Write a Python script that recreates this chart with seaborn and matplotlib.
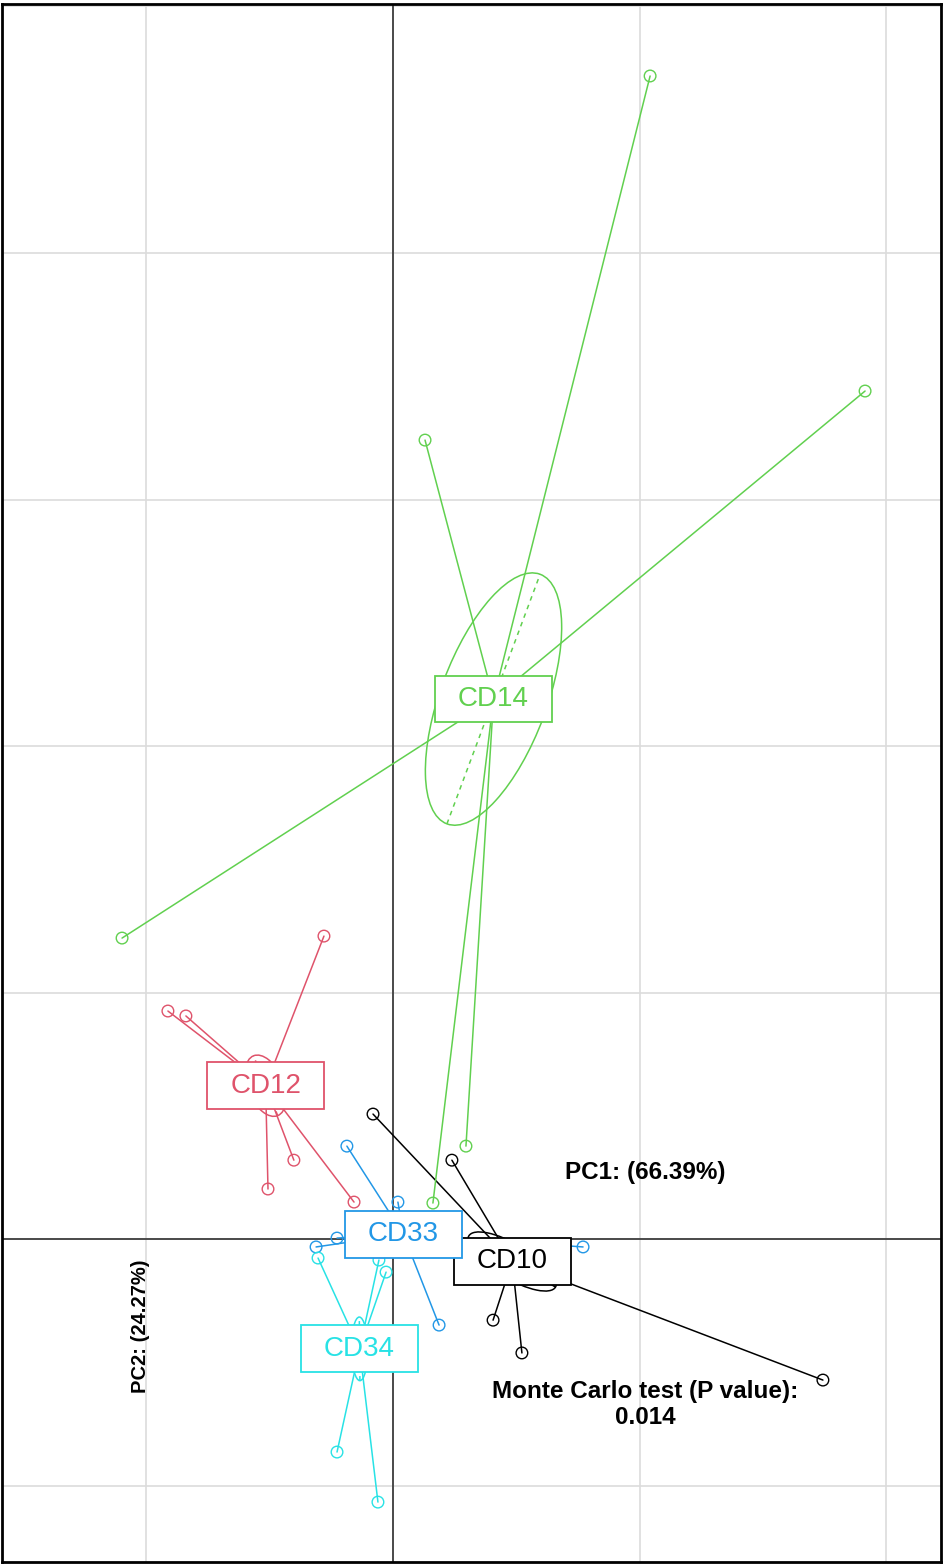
import numpy as np
import pandas as pd
import matplotlib
matplotlib.use('Agg')
import matplotlib.pyplot as plt
from matplotlib.patches import Ellipse, Rectangle
import seaborn as sns

# groups and colours (R default palette order)
groups = ['CD10', 'CD12', 'CD14', 'CD33', 'CD34']
colors = ['#000000', '#DF536B', '#61D04F', '#2297E6', '#28E2E5']

# sample scores on PC1 / PC2
cd10_x = [-0.081, 0.239, 0.406, 0.523, 1.744, 0.070]
cd10_y = [0.507, 0.320, -0.329, -0.462, -0.572, -0.010]
cd12_x = [-0.280, -0.913, -0.840, -0.402, -0.507, -0.158]
cd12_y = [1.229, 0.925, 0.905, 0.320, 0.203, 0.150]
cd14_x = [1.043, 1.915, 0.130, -1.099, 0.296, 0.162]
cd14_y = [4.718, 3.440, 3.241, 1.221, 0.377, 0.146]
cd33_x = [-0.187, 0.020, -0.227, -0.312, 0.187, 0.771]
cd33_y = [0.377, 0.150, 0.004, -0.032, -0.349, -0.032]
cd34_x = [-0.304, -0.028, -0.057, -0.227, -0.061]
cd34_y = [-0.077, -0.134, -0.085, -0.864, -1.067]

pc1_label = 'PC1: (66.39%)'
pc2_label = 'PC2: (24.27%)'
test_label = 'Monte Carlo test (P value):\n0.014'

xs = [cd10_x, cd12_x, cd14_x, cd33_x, cd34_x]
ys = [cd10_y, cd12_y, cd14_y, cd33_y, cd34_y]
df = pd.concat([pd.DataFrame({'PC1': x, 'PC2': y, 'group': g})
                for g, x, y in zip(groups, xs, ys)], ignore_index=True)

sns.set_theme(style='white')
plt.rcParams['font.family'] = ['Liberation Sans', 'DejaVu Sans']

fig = plt.figure(figsize=(9.44, 15.65), dpi=100)
ax = fig.add_axes([2 / 944, 3 / 1565, 939 / 944, 1558 / 1565])

ax.set_xlim(-1.586, 2.223)
ax.set_ylim(-1.310, 5.010)
ax.set_xticks([-1, 0, 1, 2])
ax.set_yticks(range(-1, 6))
ax.set_xticklabels([])
ax.set_yticklabels([])
ax.tick_params(length=0)
ax.grid(True, color='#DCDCDC', lw=1.2, zorder=0)
ax.set_axisbelow(True)
for sp in ax.spines.values():
    sp.set_color('black')
    sp.set_linewidth(2)
ax.axhline(0, color='#222222', lw=1.1, zorder=1)
ax.axvline(0, color='#222222', lw=1.1, zorder=1)

ell_scale = 0.3
box_w, box_h = 0.475, 0.19
palette = dict(zip(groups, colors))

centers = {}
for g in groups:
    sub = df[df['group'] == g]
    cx, cy = sub['PC1'].mean(), sub['PC2'].mean()
    centers[g] = (cx, cy)
    col = palette[g]
    # star segments
    for px, py in zip(sub['PC1'], sub['PC2']):
        ax.plot([px, cx], [py, cy], color=col, lw=1.1, zorder=2)
    # ellipse from covariance
    cov = np.cov(sub['PC1'], sub['PC2'], bias=True)
    vals, vecs = np.linalg.eigh(cov)
    a = ell_scale * np.sqrt(vals[1])
    b = ell_scale * np.sqrt(vals[0])
    v1, v0 = vecs[:, 1], vecs[:, 0]
    ang = np.degrees(np.arctan2(v1[1], v1[0]))
    ax.add_patch(Ellipse((cx, cy), 2 * a, 2 * b, angle=ang, fill=False,
                         ec=col, lw=1.1, zorder=2))
    ax.plot([cx - a * v1[0], cx + a * v1[0]], [cy - a * v1[1], cy + a * v1[1]],
            color=col, lw=1.1, ls=(0, (3, 3)), zorder=2)
    ax.plot([cx - b * v0[0], cx + b * v0[0]], [cy - b * v0[1], cy + b * v0[1]],
            color=col, lw=1.1, ls=(0, (3, 3)), zorder=2)
    sns.scatterplot(data=sub, x='PC1', y='PC2', ax=ax, s=70, marker='o',
                    facecolor='none', edgecolor=col, linewidth=1.0,
                    legend=False, zorder=3)

for g in groups:
    cx, cy = centers[g]
    col = palette[g]
    ax.add_patch(Rectangle((cx - box_w / 2, cy - box_h / 2), box_w, box_h,
                           fc='white', ec=col, lw=1.3, zorder=5))
    ax.text(cx, cy, g, color=col, fontsize=20, ha='center', va='center', zorder=6)

ax.set_xlabel('')
ax.set_ylabel('')
ax.text(0.685, 0.250, pc1_label, transform=ax.transAxes, fontsize=17.5,
        fontweight='bold', color='black', ha='center', va='center', zorder=7)
ax.text(0.147, 0.151, pc2_label, transform=ax.transAxes, fontsize=14.5,
        fontweight='bold', color='black', ha='center', va='center',
        rotation=90, zorder=7)
ax.text(0.685, 0.101, test_label, transform=ax.transAxes, fontsize=17.5,
        fontweight='bold', color='black', ha='center', va='center',
        linespacing=1.2, zorder=7)

fig.savefig('out.png', dpi=100)
